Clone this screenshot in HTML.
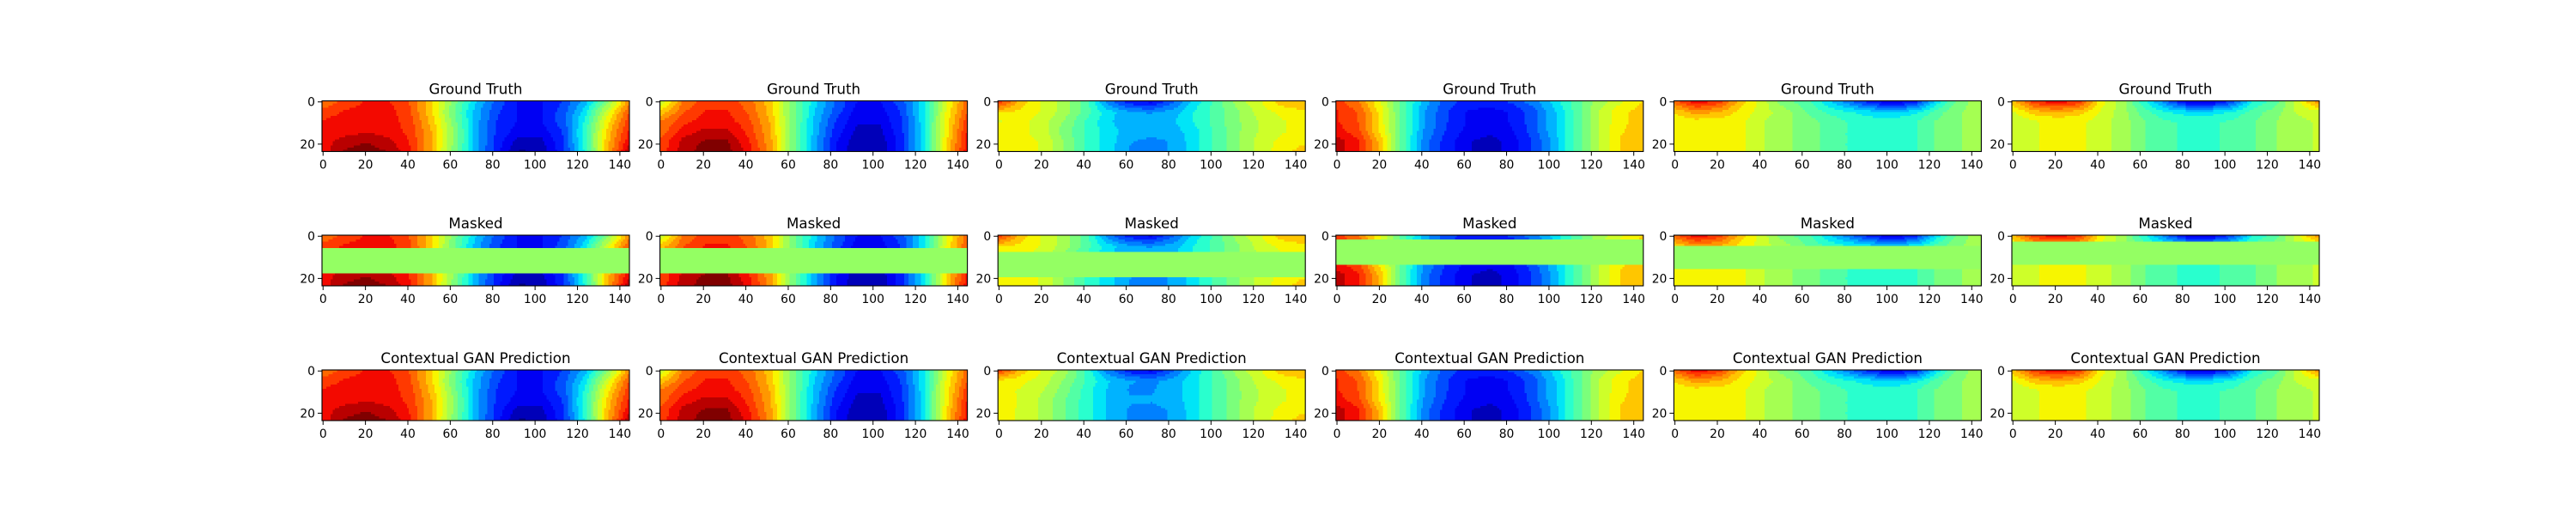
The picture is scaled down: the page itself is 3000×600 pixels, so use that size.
<!DOCTYPE html>
<html><head><meta charset="utf-8"><style>
html,body{margin:0;padding:0;background:#fff;}
#fig{position:relative;width:3000px;height:600px;overflow:hidden;background:#fff;}
canvas{position:absolute;image-rendering:pixelated;}
svg{position:absolute;left:0;top:0;}
text{font-family:"DejaVu Sans","Liberation Sans",sans-serif;fill:#000;}
</style></head><body>
<div id="fig"></div>
<script>
// ---- data: 6 row-bands x 15 column-bands of normalized values (0..1, jet colormap) ----
const titles = ["Ground Truth","Masked","Contextual GAN Prediction"];
const xTicks = [0,20,40,60,80,100,120,140];
const yTicks = [0,20];
const nCols = 145, nRows = 24;

const gt1 = [
 [0.78,0.85,0.88,0.88,0.82,0.68,0.5,0.33,0.2,0.12,0.12,0.18,0.3,0.5,0.75],
 [0.85,0.88,0.9,0.9,0.83,0.68,0.48,0.3,0.18,0.12,0.12,0.2,0.35,0.6,0.82],
 [0.88,0.9,0.9,0.9,0.85,0.7,0.5,0.3,0.17,0.12,0.12,0.2,0.38,0.65,0.85],
 [0.88,0.9,0.92,0.9,0.86,0.72,0.52,0.3,0.16,0.1,0.1,0.18,0.4,0.68,0.88],
 [0.9,0.95,0.97,0.94,0.87,0.72,0.52,0.3,0.15,0.05,0.06,0.17,0.4,0.7,0.9],
 [0.9,0.98,1.0,0.97,0.88,0.72,0.5,0.3,0.14,0.02,0.04,0.16,0.38,0.7,0.95]];
const gt2 = [
 [0.6,0.78,0.85,0.85,0.8,0.7,0.5,0.35,0.22,0.12,0.12,0.2,0.35,0.6,0.8],
 [0.7,0.82,0.88,0.88,0.82,0.7,0.5,0.33,0.2,0.1,0.1,0.18,0.35,0.62,0.82],
 [0.78,0.86,0.9,0.9,0.84,0.72,0.5,0.32,0.17,0.08,0.08,0.17,0.35,0.63,0.85],
 [0.8,0.9,0.94,0.94,0.86,0.73,0.5,0.31,0.15,0.06,0.06,0.16,0.35,0.64,0.87],
 [0.84,0.94,0.98,0.98,0.88,0.74,0.5,0.3,0.13,0.04,0.04,0.15,0.35,0.65,0.89],
 [0.85,0.95,1.0,1.0,0.9,0.75,0.5,0.3,0.12,0.03,0.03,0.15,0.35,0.65,0.9]];
const gt3 = [
 [0.85,0.7,0.62,0.55,0.45,0.25,0.15,0.12,0.22,0.35,0.45,0.55,0.62,0.7,0.72],
 [0.68,0.66,0.62,0.55,0.45,0.35,0.28,0.27,0.3,0.38,0.45,0.52,0.6,0.64,0.66],
 [0.62,0.64,0.6,0.52,0.42,0.33,0.3,0.3,0.32,0.38,0.45,0.52,0.58,0.62,0.65],
 [0.65,0.64,0.6,0.5,0.42,0.35,0.3,0.3,0.3,0.36,0.44,0.52,0.58,0.62,0.65],
 [0.64,0.64,0.62,0.52,0.42,0.35,0.28,0.26,0.28,0.36,0.44,0.52,0.6,0.64,0.66],
 [0.64,0.64,0.62,0.52,0.42,0.35,0.27,0.26,0.28,0.36,0.44,0.52,0.6,0.65,0.7]];
const gt4 = [
 [0.85,0.78,0.62,0.45,0.3,0.2,0.15,0.15,0.18,0.25,0.35,0.45,0.55,0.62,0.68],
 [0.88,0.82,0.65,0.45,0.28,0.18,0.12,0.1,0.13,0.2,0.32,0.45,0.58,0.66,0.7],
 [0.88,0.82,0.65,0.45,0.28,0.18,0.12,0.1,0.13,0.2,0.32,0.45,0.58,0.66,0.7],
 [0.9,0.84,0.66,0.45,0.27,0.17,0.11,0.09,0.12,0.2,0.32,0.45,0.58,0.67,0.7],
 [0.95,0.88,0.7,0.45,0.25,0.15,0.08,0.05,0.1,0.18,0.3,0.45,0.58,0.68,0.72],
 [0.95,0.88,0.7,0.45,0.25,0.15,0.08,0.05,0.1,0.18,0.3,0.45,0.58,0.68,0.72]];
const gt5 = [
 [0.8,0.9,0.85,0.7,0.6,0.5,0.45,0.35,0.25,0.15,0.1,0.15,0.35,0.5,0.55],
 [0.68,0.75,0.72,0.66,0.6,0.55,0.48,0.42,0.38,0.35,0.33,0.36,0.45,0.52,0.55],
 [0.64,0.65,0.65,0.64,0.58,0.54,0.5,0.46,0.42,0.4,0.4,0.42,0.48,0.52,0.55],
 [0.64,0.65,0.65,0.64,0.58,0.54,0.5,0.46,0.42,0.4,0.4,0.42,0.48,0.52,0.55],
 [0.64,0.65,0.65,0.64,0.58,0.54,0.5,0.46,0.42,0.4,0.4,0.42,0.48,0.52,0.55],
 [0.64,0.65,0.65,0.64,0.58,0.54,0.5,0.46,0.42,0.4,0.4,0.42,0.48,0.52,0.55]];
const gt6 = [
 [0.7,0.85,0.9,0.85,0.65,0.55,0.4,0.25,0.12,0.1,0.2,0.38,0.45,0.6,0.75],
 [0.62,0.7,0.72,0.7,0.62,0.55,0.45,0.38,0.35,0.35,0.38,0.45,0.5,0.58,0.6],
 [0.58,0.62,0.64,0.64,0.6,0.55,0.48,0.43,0.42,0.42,0.43,0.47,0.52,0.56,0.58],
 [0.58,0.62,0.64,0.64,0.6,0.55,0.48,0.43,0.42,0.42,0.43,0.47,0.52,0.56,0.58],
 [0.58,0.62,0.64,0.64,0.6,0.55,0.48,0.43,0.42,0.42,0.43,0.47,0.52,0.56,0.58],
 [0.58,0.62,0.64,0.64,0.6,0.55,0.48,0.43,0.42,0.42,0.43,0.47,0.52,0.56,0.58]];
const pred3 = [
 [0.85,0.7,0.62,0.55,0.42,0.25,0.15,0.12,0.22,0.35,0.45,0.55,0.62,0.7,0.72],
 [0.66,0.64,0.6,0.52,0.42,0.33,0.28,0.26,0.3,0.36,0.44,0.52,0.6,0.64,0.66],
 [0.64,0.62,0.58,0.5,0.4,0.32,0.27,0.27,0.3,0.36,0.44,0.52,0.58,0.62,0.65],
 [0.65,0.62,0.56,0.48,0.4,0.32,0.28,0.28,0.3,0.36,0.44,0.52,0.58,0.62,0.65],
 [0.64,0.62,0.56,0.48,0.4,0.32,0.27,0.26,0.28,0.36,0.44,0.52,0.6,0.64,0.66],
 [0.64,0.62,0.56,0.48,0.4,0.32,0.27,0.26,0.28,0.36,0.44,0.52,0.6,0.65,0.7]];
const maskStart = [6,6,8,2,5,3];
const maskEnd   = [17,17,19,13,15,13];
const maskValue = 0.53;
const gtGrids = [gt1,gt2,gt3,gt4,gt5,gt6];
const predGrids = [gt1,gt2,pred3,gt4,gt5,gt6];

// ---- layout ----
const W = 3000, H = 600;
const axW = 358, axH = 59;
const colX = i => 375 + i*393.6;
const rowY = [117.5, 274, 431];
const fig = document.getElementById('fig');
const NS = 'http://www.w3.org/2000/svg';
const svg = document.createElementNS(NS,'svg');
svg.setAttribute('width',W); svg.setAttribute('height',H);



// matplotlib jet segment data
const JR = [[0,0],[0.35,0],[0.66,1],[0.89,1],[1,0.5]];
const JG = [[0,0],[0.125,0],[0.375,1],[0.64,1],[0.91,0],[1,0]];
const JB = [[0,0.5],[0.11,1],[0.34,1],[0.65,0],[1,0]];
function seg(s, v){
  for (let k=1;k<s.length;k++){
    if (v<=s[k][0]){ const t=(v-s[k-1][0])/(s[k][0]-s[k-1][0]); return s[k-1][1]+(s[k][1]-s[k-1][1])*t; }
  }
  return s[s.length-1][1];
}
function jet(v){
  v = Math.max(0,Math.min(1,v));
  return [Math.round(255*seg(JR,v)), Math.round(255*seg(JG,v)), Math.round(255*seg(JB,v))];
}
function sample(g, x, y){
  const fx = x/(nCols-1)*(g[0].length-1), fy = y/(nRows-1)*(g.length-1);
  const x0 = Math.floor(fx), y0 = Math.floor(fy);
  const x1 = Math.min(x0+1,g[0].length-1), y1 = Math.min(y0+1,g.length-1);
  const tx = fx-x0, ty = fy-y0;
  const a = g[y0][x0]*(1-tx)+g[y0][x1]*tx, b = g[y1][x0]*(1-tx)+g[y1][x1]*tx;
  return a*(1-ty)+b*ty;
}
function el(tag, attrs, parent){
  const e = document.createElementNS(NS, tag);
  for (const k in attrs) e.setAttribute(k, attrs[k]);
  parent.appendChild(e); return e;
}

for (let r=0;r<3;r++){
  for (let i=0;i<6;i++){
    const L = colX(i), T = rowY[r];
    const grid = r===2 ? predGrids[i] : gtGrids[i];
    const cv = document.createElement('canvas');
    cv.width = nCols; cv.height = nRows;
    cv.style.left = L+'px'; cv.style.top = T+'px';
    cv.style.width = axW+'px'; cv.style.height = axH+'px';
    
    
    const ctx = cv.getContext('2d');
    const img = ctx.createImageData(nCols,nRows);
    for (let y=0;y<nRows;y++) for (let x=0;x<nCols;x++){
      let v = sample(grid,x,y);
      if (r===1 && y>=maskStart[i] && y<=maskEnd[i]) v = maskValue;
      else v = Math.round(v*20)/20;
      const c = jet(v), k = (y*nCols+x)*4;
      img.data[k]=c[0]; img.data[k+1]=c[1]; img.data[k+2]=c[2]; img.data[k+3]=255;
    }
    ctx.putImageData(img,0,0);
    fig.appendChild(cv);

    const g = el('g',{},svg);
    
    
    const fr = el('rect',{x:L,y:T,width:axW,height:axH,fill:'none',stroke:'#000','stroke-width':1.1},g);
    
    
    const tt = el('text',{x:L+axW/2,y:T-8,'text-anchor':'middle','font-size':16.7},g);
    tt.textContent = titles[r];
    
    
    xTicks.forEach(v=>{
      const px = L + (v+0.5)/nCols*axW;
      el('line',{x1:px,x2:px,y1:T+axH,y2:T+axH+5,stroke:'#000','stroke-width':1},g);
      const t = el('text',{x:px,y:T+axH+20,'text-anchor':'middle','font-size':13.9},g);
      t.textContent = v;
      
      
    });
    yTicks.forEach(v=>{
      const py = T + (v+0.5)/nRows*axH;
      el('line',{x1:L-5,x2:L,y1:py,y2:py,stroke:'#000','stroke-width':1},g);
      const t = el('text',{x:L-8,y:py+5,'text-anchor':'end','font-size':13.9},g);
      t.textContent = v;
      
      
    });
  }
}
fig.appendChild(svg);
</script>
</body></html>
